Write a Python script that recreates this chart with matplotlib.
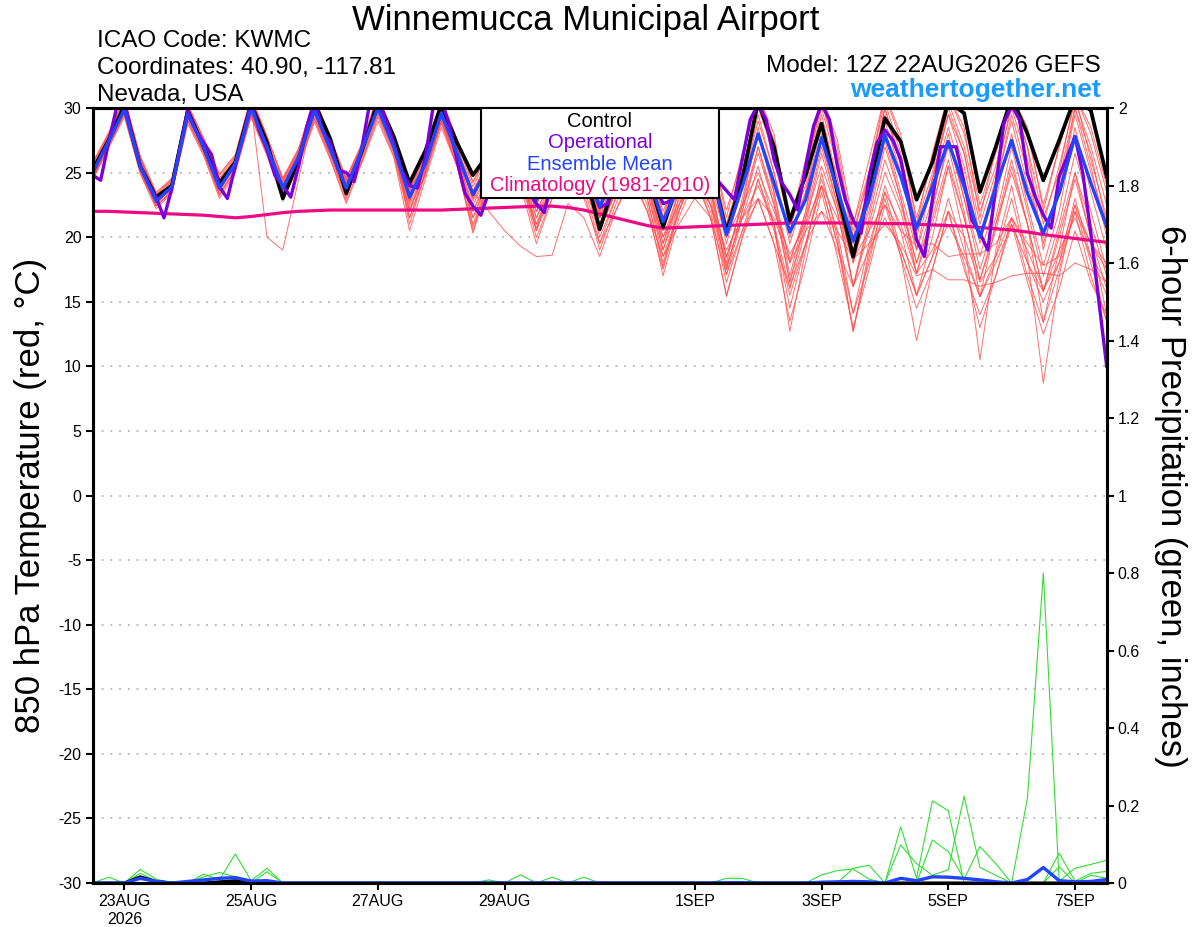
import matplotlib
matplotlib.use('Agg')
import matplotlib.pyplot as plt
from matplotlib.patches import Rectangle
from matplotlib.ticker import FuncFormatter
import pandas as pd
import numpy as np

# ---------------- data ----------------
ens_mean_t = [25.0,27.4, 29.9,25.5,22.8,23.9, 29.5,27.0,23.8,25.7, 30.0,27.0,23.8,26.2, 29.8,26.8,23.8,26.8,
              30.0,27.0,23.1,25.7, 29.6,26.5,23.3,25.5, 28.5,25.8,22.9,25.0, 28.0,25.5,22.4,24.8,
              27.8,25.0,21.2,24.0, 27.2,25.6,20.2,23.9, 28.0,24.2,20.4,22.9, 27.7,23.7,19.7,22.9,
              27.9,24.7,20.7,23.9, 27.4,23.9,20.0,23.9, 27.5,23.4,20.3,23.4, 27.8,24.2,20.8]

control_t = [25.2,27.5, 30.2,25.5,23.1,24.0, 29.8,27.0,24.2,25.8, 30.3,27.3,23.0,26.0, 30.4,27.6,23.4,26.7,
             30.5,27.8,24.2,26.7, 30.2,27.3,24.8,26.5, 29.5,26.5,23.5,25.5, 29.0,25.5,20.6,24.5,
             28.5,25.0,20.8,24.5, 28.0,25.5,20.4,24.5, 30.5,27.0,21.3,24.8, 28.8,23.5,18.5,23.6,
             29.2,27.4,22.9,25.8, 30.5,29.6,23.5,27.0, 30.8,28.0,24.4,27.5, 30.8,29.8,24.7]

# operational run is 3-hourly
operational_t = [24.8,24.4,27.3,30.0,30.5,27.8,25.5,24.2,23.1,21.5,23.8,26.8,
                 29.8,28.3,27.3,26.4,23.9,23.0,25.5,27.8,30.5,28.3,26.8,24.8,
                 24.0,23.1,25.5,28.5,30.6,28.3,27.3,25.2,25.0,24.3,27.0,30.5,
                 30.8,29.1,27.3,25.2,24.0,23.8,26.2,30.2,30.6,28.8,25.9,23.4,
                 22.4,21.7,23.5,26.5,29.0,28.0,26.0,23.5,22.6,21.9,24.5,28.0,
                 30.3,28.5,26.0,24.0,22.3,22.6,25.0,28.0,30.2,28.5,26.5,24.0,
                 22.6,22.8,24.5,27.0,28.0,27.0,25.5,24.3,23.6,22.9,26.0,29.1,
                 30.3,29.1,26.0,24.2,23.3,22.1,25.5,28.6,30.3,29.1,25.5,22.9,
                 21.3,20.3,24.7,27.3,28.3,27.5,26.0,22.9,19.8,18.5,22.9,27.0,
                 27.0,27.0,24.2,21.3,20.3,19.0,23.9,28.8,30.2,29.1,24.9,23.1,
                 21.7,20.7,24.7,26.2,27.8,24.9,20.3,15.1,10.0]

climo_t = [22.0,22.0, 21.95,21.9,21.85,21.8, 21.75,21.7,21.6,21.5, 21.6,21.75,21.9,22.0, 22.05,22.1,22.1,22.1,
           22.1,22.1,22.1,22.1, 22.1,22.15,22.2,22.25, 22.3,22.35,22.4,22.4, 22.3,22.1,21.8,21.5,
           21.2,20.9,20.7,20.75, 20.8,20.85,20.9,20.95, 21.0,21.05,21.1,21.1, 21.1,21.1,21.1,21.1,
           21.05,21.05,21.0,20.95, 20.9,20.85,20.75,20.65, 20.55,20.4,20.2,20.05, 19.9,19.75,19.6]

ens_members_t = [
    [25.5,27.8, 30.5,26.0,23.2,24.5, 30.0,27.5,24.5,26.0, 30.6,27.5,24.0,26.5, 30.5,27.3,24.3,27.0, 30.8,27.5,23.8,26.5, 30.2,27.0,23.5,26.0, 29.5,26.5,22.5,25.5, 29.0,26.0,21.5,25.0, 29.0,26.0,20.5,24.5, 29.5,26.5,21.0,25.0, 30.5,26.0,21.0,24.0, 30.0,25.5,20.5,24.5, 30.0,26.0,21.0,25.0, 30.5,27.0,22.0,25.5, 31.0,27.0,21.5,25.0, 31.0,26.0,21.5],
    [24.5,27.0, 29.5,25.0,22.4,23.5, 29.0,26.5,23.2,25.2, 29.5,26.5,23.3,25.8, 29.2,26.3,23.2,26.0, 29.5,26.5,22.0,25.0, 29.0,26.0,22.0,24.5, 28.0,25.0,21.0,24.0, 27.0,24.5,20.5,23.5, 26.5,23.5,19.0,22.5, 25.5,23.0,17.5,22.0, 26.5,22.5,18.3,21.5, 25.5,22.0,16.2,20.5, 25.0,22.0,17.2,21.0, 25.5,21.5,16.7,21.0, 25.0,21.0,15.8,20.0, 24.5,20.0,16.0],
    [25.8,28.0, 30.8,26.2,23.4,24.6, 30.3,27.6,24.8,26.3, 30.8,27.8,24.4,26.8, 30.8,27.6,24.5,27.2, 31.0,27.8,24.0,26.8, 30.5,27.5,24.2,26.5, 30.0,27.0,23.5,26.0, 29.5,26.5,22.0,25.5, 30.0,26.5,21.0,25.5, 30.5,27.0,22.1,26.0, 31.0,27.5,21.0,25.0, 31.0,27.0,20.0,25.0, 31.0,27.5,21.5,26.0, 31.0,28.0,22.5,26.5, 31.0,28.5,22.0,27.0, 31.0,28.0,23.5],
    [24.8,27.2, 29.8,25.3,22.6,23.8, 29.3,26.8,23.6,25.5, 30.2,20.0,19.0,24.5, 30.0,26.8,23.5,26.5, 30.0,27.0,22.8,25.5, 29.5,26.5,23.0,25.3, 28.5,25.5,22.0,24.5, 28.0,25.0,21.0,24.0, 27.5,24.5,20.0,23.5, 26.5,24.0,18.4,22.5, 27.0,23.0,16.5,21.5, 27.0,22.5,18.3,22.0, 27.5,23.0,18.0,22.5, 27.0,22.0,15.4,21.0, 26.0,21.0,13.4,19.0, 25.0,20.0,14.0],
    [25.2,27.5, 30.0,25.6,22.9,24.0, 29.6,27.1,23.9,25.8, 30.1,27.1,23.7,26.1, 29.8,26.9,23.7,26.6, 30.2,27.2,23.3,25.8, 29.3,26.0,23.5,22.0, 20.5,19.3,18.5,18.6, 22.6,21.5,18.5,22.0, 25.0,22.0,17.5,22.0, 25.0,22.5,17.1,21.5, 24.0,21.0,16.0,20.5, 24.5,20.5,14.1,19.5, 23.5,21.0,17.2,19.0, 22.0,20.0,16.5,18.5, 21.5,19.0,16.0,18.0, 22.0,19.5,17.5],
    [25.0,27.3, 29.7,25.4,22.7,23.7, 29.4,26.9,23.7,25.6, 29.9,26.9,23.6,26.0, 29.5,26.5,23.0,26.4, 29.8,26.8,21.5,25.0, 29.0,25.5,20.3,24.5, 28.0,25.0,20.7,24.0, 27.0,24.5,20.5,23.5, 26.5,23.0,17.7,22.5, 25.0,21.5,15.4,20.0, 24.5,21.0,12.7,19.0, 25.0,20.0,12.7,19.0, 24.0,20.5,15.5,20.0, 25.5,20.0,10.5,19.0, 24.0,18.5,8.7,17.0, 22.5,18.0,13.5],
    [25.6,27.9, 30.6,26.1,23.3,24.3, 30.1,27.4,24.6,26.2, 30.7,27.7,24.5,26.7, 30.6,27.5,24.4,27.1, 30.9,27.9,23.9,26.6, 30.4,27.3,23.9,26.3, 29.8,26.8,23.0,25.8, 29.8,26.8,22.5,25.8, 29.5,26.5,21.5,25.0, 29.0,26.0,20.5,24.5, 30.0,26.5,21.5,24.5, 30.5,26.0,21.0,25.0, 30.5,26.5,20.5,24.5, 30.0,26.5,21.0,25.0, 30.0,26.0,21.0,25.5, 30.5,27.0,22.5],
    [24.6,27.1, 29.6,25.2,22.5,23.6, 29.1,26.6,23.4,25.3, 29.6,26.6,23.4,25.9, 29.3,26.4,23.2,26.2, 29.6,26.6,22.5,25.3, 29.2,26.2,22.5,25.0, 28.0,25.0,21.5,24.0, 27.5,24.5,21.0,23.5, 27.0,24.0,19.5,23.0, 26.0,23.5,17.5,22.0, 27.0,22.5,16.5,21.0, 26.5,22.0,16.2,21.0, 26.0,22.5,18.0,21.5, 26.0,21.5,16.7,20.5, 25.5,21.0,15.8,20.5, 25.0,21.0,17.0],
    [25.1,27.6, 30.1,25.7,23.0,24.1, 29.7,27.2,24.0,25.9, 30.2,27.2,24.0,26.3, 29.9,26.9,23.9,26.9, 30.1,27.1,23.2,25.9, 29.7,26.7,22.8,25.0, 28.5,25.5,22.0,24.5, 27.5,25.0,21.5,24.0, 26.5,24.0,20.0,22.5, 24.5,22.5,19.0,21.5, 23.0,21.5,18.0,20.5, 22.0,20.5,18.3,19.5, 21.0,19.5,17.0,17.5, 16.7,16.7,16.2,16.5, 17.0,17.2,17.2,17.0, 18.0,17.5,16.5],
    [24.9,27.3, 29.9,25.5,22.8,23.9, 29.5,27.0,23.8,25.7, 30.0,27.0,23.8,26.2, 29.7,26.8,23.8,26.8, 29.9,26.9,22.9,25.6, 29.4,26.3,23.0,25.4, 28.3,25.6,22.7,24.8, 27.8,25.3,22.2,24.5, 27.0,24.5,21.0,23.5, 26.0,24.0,20.0,22.5, 25.0,22.0,18.7,21.0, 24.0,21.5,18.3,20.5, 22.5,20.5,19.3,19.5, 18.5,18.7,18.7,19.5, 21.5,19.5,17.8,18.5, 22.5,19.5,18.0],
    [24.7,27.2, 29.8,25.4,22.6,23.8, 29.3,26.8,23.6,25.5, 29.8,26.8,23.5,25.9, 29.6,26.6,23.4,26.5, 29.8,26.8,22.2,25.2, 29.0,25.8,21.5,24.5, 28.0,25.0,21.0,24.0, 27.5,24.5,20.0,23.0, 26.5,23.5,18.5,22.0, 25.5,22.5,17.8,21.5, 25.5,21.0,14.5,19.5, 24.0,19.5,12.7,18.5, 23.0,18.5,12.0,17.5, 22.0,18.0,13.0,17.0, 21.5,17.0,13.4,17.5, 22.0,17.0,13.5],
    [25.4,27.7, 30.3,25.9,23.1,24.2, 30.0,27.3,24.3,26.1, 30.5,27.4,24.3,26.6, 30.3,27.2,24.1,27.0, 30.5,27.5,23.6,26.2, 30.0,27.0,23.4,26.0, 29.8,27.0,23.8,26.2, 30.0,27.0,22.8,25.5, 29.5,26.0,22.0,25.0, 30.0,26.5,21.0,25.0, 31.0,27.0,20.5,25.0, 30.5,26.5,19.5,24.0, 29.5,26.0,20.0,24.5, 29.5,26.5,20.0,24.5, 30.5,27.0,19.0,24.5, 30.0,26.5,21.0],
    [25.3,27.5, 30.0,25.7,22.9,24.0, 29.6,27.0,23.8,25.8, 30.1,27.1,23.9,26.3, 29.9,27.0,23.9,26.9, 30.2,27.2,22.7,25.8, 29.8,26.5,22.0,25.0, 28.5,25.5,21.5,24.5, 28.0,25.0,21.5,24.0, 27.5,24.5,19.5,23.5, 27.0,24.0,18.0,23.0, 28.0,23.5,18.0,22.0, 27.5,22.5,18.0,22.5, 28.0,23.5,19.0,23.0, 28.0,23.0,18.5,23.0, 28.0,22.5,17.8,22.0, 28.5,23.5,19.0],
    [24.9,27.4, 29.9,25.6,22.8,23.9, 29.4,26.9,23.7,25.6, 29.9,26.9,23.7,26.1, 29.7,26.7,23.6,26.7, 29.9,26.9,22.0,25.4, 29.3,26.2,21.0,24.3, 27.5,24.5,20.5,23.5, 27.0,24.0,19.5,23.0, 26.0,23.0,18.0,22.0, 25.0,22.0,16.5,20.5, 24.5,20.5,15.5,19.5, 24.0,19.5,14.1,18.0, 23.5,19.0,15.5,18.5, 23.0,19.0,15.4,18.5, 23.0,18.0,15.0,18.0, 23.0,18.5,15.5],
    [25.1,27.5, 30.1,25.6,22.9,24.0, 29.6,27.1,24.0,25.9, 30.2,27.2,24.1,26.4, 30.0,27.0,24.0,26.9, 30.2,27.1,23.5,26.0, 29.8,26.8,23.2,25.6, 29.0,26.3,23.0,25.3, 28.5,26.0,22.5,25.0, 28.5,25.5,21.0,24.5, 28.0,25.5,20.0,24.0, 29.0,25.0,20.0,23.5, 28.5,24.5,19.0,23.0, 29.0,25.0,20.5,24.0, 28.5,24.5,20.0,24.0, 29.0,24.0,20.5,23.5, 29.5,25.0,21.0],
    [24.4,26.9, 29.3,24.9,22.2,23.4, 28.8,26.3,23.0,25.0, 29.3,26.3,22.8,25.5, 28.9,26.0,22.6,25.8, 29.0,26.2,20.5,24.5, 28.5,25.5,20.8,24.0, 27.0,24.0,19.5,23.0, 26.5,23.5,19.0,22.5, 25.5,22.5,17.0,21.5, 24.5,21.5,15.5,20.0, 23.0,19.5,13.5,18.0, 23.5,18.5,13.0,17.5, 22.5,18.5,14.5,17.5, 22.0,17.5,14.0,17.0, 21.0,16.5,12.5,16.0, 20.5,16.5,14.0],
    [25.7,28.1, 30.7,26.3,23.5,24.4, 30.2,27.7,24.9,26.4, 30.9,27.8,24.6,26.9, 30.7,27.7,24.6,27.3, 31.0,28.0,24.1,26.9, 30.6,27.6,24.3,26.6, 30.5,27.5,23.0,26.0, 30.5,27.5,22.0,26.0, 30.5,27.0,21.5,26.0, 31.0,27.5,21.5,26.5, 31.0,28.0,21.0,26.0, 31.0,27.5,21.0,26.0, 31.0,28.0,21.0,26.5, 31.0,28.5,21.5,27.0, 31.0,28.0,22.5,27.0, 31.0,28.5,24.0],
    [25.0,27.4, 29.9,25.5,22.7,23.8, 29.5,27.0,23.9,25.7, 30.0,27.0,23.9,26.2, 29.8,26.8,23.9,26.8, 30.0,27.0,21.0,25.0, 29.5,26.0,21.5,24.5, 28.5,25.0,20.5,24.0, 28.0,24.5,20.5,23.5, 27.5,24.0,19.0,23.0, 27.0,23.5,18.5,22.5, 28.5,23.5,17.0,22.0, 28.0,23.0,16.2,21.5, 27.0,23.0,17.2,22.0, 27.5,23.0,17.5,21.5, 27.0,22.0,17.0,21.0, 26.5,22.0,17.5],
    [24.6,27.0, 29.5,25.1,22.4,23.5, 29.0,26.5,23.3,25.2, 29.4,26.4,23.1,25.6, 29.1,26.1,22.8,25.9, 29.3,26.3,21.5,24.8, 28.8,25.5,20.5,24.0, 27.5,24.5,20.0,23.0, 26.0,23.0,19.5,22.0, 24.5,22.0,18.5,21.0, 23.0,21.5,17.1,20.5, 22.9,19.5,16.2,19.5, 22.0,19.0,16.2,19.0, 21.5,19.0,15.5,18.5, 21.0,18.5,15.4,18.0, 21.0,18.0,15.8,19.0, 21.5,18.5,16.5],
    [25.3,27.6, 30.2,25.8,23.0,24.1, 29.8,27.2,24.1,26.0, 30.3,27.3,24.2,26.5, 30.1,27.1,24.2,27.0, 30.3,27.3,23.7,26.3, 29.9,26.9,23.6,26.0, 29.0,26.0,22.5,25.0, 28.5,25.5,21.8,24.5, 28.0,25.0,20.5,24.0, 28.5,25.0,19.5,24.0, 29.5,25.0,19.5,23.5, 29.5,24.5,18.0,23.5, 30.0,25.5,19.0,24.5, 29.5,25.5,19.5,24.0, 29.5,25.0,19.5,23.5, 30.0,25.5,20.0],
]

# 6-hour precipitation (inches)
ens_mean_p = [0,0, 0,.012,.004,0, .004,.008,.012,.014, .005,.006,0,0, 0,0,0,0, 0,0,0,0, 0,0,0,0, 0,0,0,0,
              0,0,0,0, 0,0,0,0, 0,0,.001,.001, 0,0,0,0, .002,.003,.004,.003, 0,.012,.006,.016,
              .015,.012,.008,.003, 0,.009,.040,.006, .003,.004,.009]
control_p = [0,0, 0,.016,.004,0, 0,0,.003,.006, 0,0,0,0, 0,0,0,0, 0,0,0,0, 0,0,0,0, 0,0,0,0,
             0,0,0,0, 0,0,0,0, 0,0,0,0, 0,0,0,0, 0,0,0,0, 0,0,0,0, 0,0,0,0, 0,0,0,0, 0,0,0]
ens_members_p = [
    [0,.015, 0,.035,.01,0, 0,0,0,0, 0,0,0,0, 0,0,0,0, 0,0,0,0, 0,0,0,0, 0,0,0,0, 0,0,0,0, 0,0,0,0, 0,0,.012,.012, 0,0,0,0, 0,0,0,0, 0,0,0,0, 0,0,0,0, 0,0,0,0, 0,0,0],
    [0,0, 0,.025,.005,0, 0,.023,.008,.075, .006,.038,0,0, 0,0,0,0, 0,0,0,0, 0,0,0,0, 0,0,0,0, 0,0,0,0, 0,0,0,0, 0,0,0,0, 0,0,0,0, 0,0,0,0, 0,0,0,0, 0,0,0,0, 0,0,0,0, 0,0,0],
    [0,0, 0,0,0,0, 0,.016,.027,.016, 0,.029,0,0, 0,0,0,0, 0,0,0,0, 0,0,0,.008, 0,.021,0,0, 0,0,0,0, 0,0,0,0, 0,0,0,0, 0,0,0,0, 0,0,0,0, 0,0,0,0, 0,0,0,0, 0,0,0,0, 0,0,0],
    [0,0, 0,0,0,0, 0,0,0,0, 0,0,0,0, 0,0,0,0, 0,0,0,0, 0,0,0,0, 0,0,0,.015, 0,.015,0,0, 0,0,0,0, 0,0,0,0, 0,0,0,0, .021,.032,.036,.01, 0,0,0,0, 0,0,0,0, 0,0,0,0, 0,0,0],
    [0,0, 0,0,0,0, 0,0,0,0, 0,0,0,0, 0,0,0,0, 0,0,0,0, 0,0,0,0, 0,0,0,0, 0,0,0,0, 0,0,0,0, 0,0,0,0, 0,0,0,0, 0,0,.038,.046, 0,.145,.012,.212, .187,0,0,0, 0,0,0,0, 0,0,0],
    [0,0, 0,0,0,0, 0,0,0,0, 0,0,0,0, 0,0,0,0, 0,0,0,0, 0,0,0,0, 0,0,0,0, 0,0,0,0, 0,0,0,0, 0,0,0,0, 0,0,0,0, 0,0,0,0, 0,.098,.05,.02, .034,.224,.04,.02, 0,0,0,0, 0,0,0],
    [0,0, 0,0,0,0, 0,0,0,0, 0,0,0,0, 0,0,0,0, 0,0,0,0, 0,0,0,0, 0,0,0,0, 0,0,0,0, 0,0,0,0, 0,0,0,0, 0,0,0,0, 0,0,0,0, 0,0,0,.111, .081,.01,.094,.05, 0,0,0,0, 0,0,0],
    [0,0, 0,0,0,0, 0,0,0,0, 0,0,0,0, 0,0,0,0, 0,0,0,0, 0,0,0,0, 0,0,0,0, 0,0,0,0, 0,0,0,0, 0,0,0,0, 0,0,0,0, 0,0,0,0, 0,0,0,0, 0,0,0,0, 0,.22,.80,.005, .038,.048,.059],
    [0,0, 0,0,0,0, 0,0,0,0, 0,0,0,0, 0,0,0,0, 0,0,0,0, 0,0,0,0, 0,0,0,0, 0,0,0,0, 0,0,0,0, 0,0,0,0, 0,0,0,0, 0,0,0,0, 0,0,0,0, 0,0,0,0, 0,0,0,.077, .005,.025,.03],
    [0,0, 0,0,0,0, 0,0,0,0, 0,0,0,0, 0,0,0,0, 0,0,0,0, 0,0,0,0, 0,0,0,0, 0,0,0,0, 0,0,0,0, 0,0,0,0, 0,0,0,0, 0,0,0,0, 0,0,0,0, 0,0,0,0, 0,0,0,.042, 0,.02,.012],
]

tick_dates = ['2026-08-23', '2026-08-25', '2026-08-27', '2026-08-29',
              '2026-09-01', '2026-09-03', '2026-09-05', '2026-09-07']
tick_labels = ['23AUG\n2026', '25AUG', '27AUG', '29AUG', '1SEP', '3SEP', '5SEP', '7SEP']

# ---------------- figure ----------------
plt.rcParams['font.family'] = ['Liberation Sans', 'DejaVu Sans']
plt.rcParams['axes.unicode_minus'] = False

W, H = 1200, 927
fig = plt.figure(figsize=(12, 9.27), dpi=100)
L, R, T, B = 92.7, 1106.7, 108.0, 883.0
ax = fig.add_axes([L / W, 1 - B / H, (R - L) / W, (B - T) / H])
ax2 = ax.twinx()

times6 = pd.date_range('2026-08-22 12:00', periods=len(ens_mean_t), freq='6h')
times3 = pd.date_range('2026-08-22 12:00', periods=len(operational_t), freq='3h')

ax.set_xlim(times6[0], times6[-1])
ax.set_ylim(-30, 30)
ax2.set_ylim(0, 2)

for yv in range(-25, 30, 5):
    ax.axhline(yv, color='#a8a8a8', lw=1.1, ls=(0, (1.2, 4.5)), zorder=0)

for m in ens_members_t:
    ax.plot(times6, m, color='#ff4a4a', lw=0.7, alpha=0.8, zorder=2)
ax.plot(times6, climo_t, color='#ee0a84', lw=2.3, zorder=3)
ax.plot(times6, control_t, color='black', lw=2.7, zorder=4)
ax.plot(times3, operational_t, color='#7c00d9', lw=2.4, zorder=5)
ax.plot(times6, ens_mean_t, color='#2244ff', lw=2.4, zorder=6)

for g in ens_members_p:
    ax2.plot(times6, g, color='#33dd33', lw=0.8)
ax2.plot(times6, control_p, color='black', lw=2.2)
ax2.plot(times6, ens_mean_p, color='#2244ff', lw=2.4)

ax.set_xticks(pd.to_datetime(tick_dates))
ax.set_xticklabels(tick_labels)
ax.set_yticks(range(-30, 31, 5))
ax.yaxis.set_major_formatter(FuncFormatter(lambda v, p: '%d' % v))
ax2.set_yticks(np.arange(0, 2.01, 0.2))
ax2.yaxis.set_major_formatter(FuncFormatter(lambda v, p: '%g' % round(v, 1)))
ax.tick_params(axis='both', direction='out', length=5, width=1.5, labelsize=11.5, pad=3)
ax2.tick_params(axis='y', direction='out', length=5, width=1.5, labelsize=11.5, pad=3)
for a in (ax, ax2):
    for sp in a.spines.values():
        sp.set_linewidth(2.2)

# texts
fig.text(586 / W, 1 - 30 / H, 'Winnemucca Municipal Airport', ha='center', va='baseline', fontsize=25)
fig.text(97 / W, 1 - 47 / H, 'ICAO Code: KWMC', ha='left', va='baseline', fontsize=17.5)
fig.text(97 / W, 1 - 74 / H, 'Coordinates: 40.90, -117.81', ha='left', va='baseline', fontsize=17.5)
fig.text(97 / W, 1 - 101 / H, 'Nevada, USA', ha='left', va='baseline', fontsize=17.5)
fig.text(1101 / W, 1 - 72 / H, 'Model: 12Z 22AUG2026 GEFS', ha='right', va='baseline', fontsize=17.5)
fig.text(1101 / W, 1 - 97 / H, 'weathertogether.net', ha='right', va='baseline', fontsize=19,
         fontweight='bold', color='#1a9cff')

fig.text(31 / W, 1 - 495 / H, '850 hPa Temperature (red, °C)', rotation=90, ha='center', va='center', fontsize=25)
fig.text(1170 / W, 1 - 496 / H, '6-hour Precipitation (green, inches)', rotation=270, ha='center', va='center', fontsize=25)

# legend box
fig.add_artist(Rectangle((481 / W, 1 - 198 / H), (719 - 481) / W, (198 - 108) / H, transform=fig.transFigure,
                         facecolor='white', edgecolor='black', lw=1.5, zorder=10))
leg_items = [('Control', 'black', 127), ('Operational', '#7c00d9', 148),
             ('Ensemble Mean', '#2244ff', 170), ('Climatology (1981-2010)', '#ee0a84', 191)]
for txt, col, yb in leg_items:
    fig.text(600 / W, 1 - yb / H, txt, ha='center', va='baseline', fontsize=14.5, color=col, zorder=11)

fig.savefig('out.png', dpi=100)
